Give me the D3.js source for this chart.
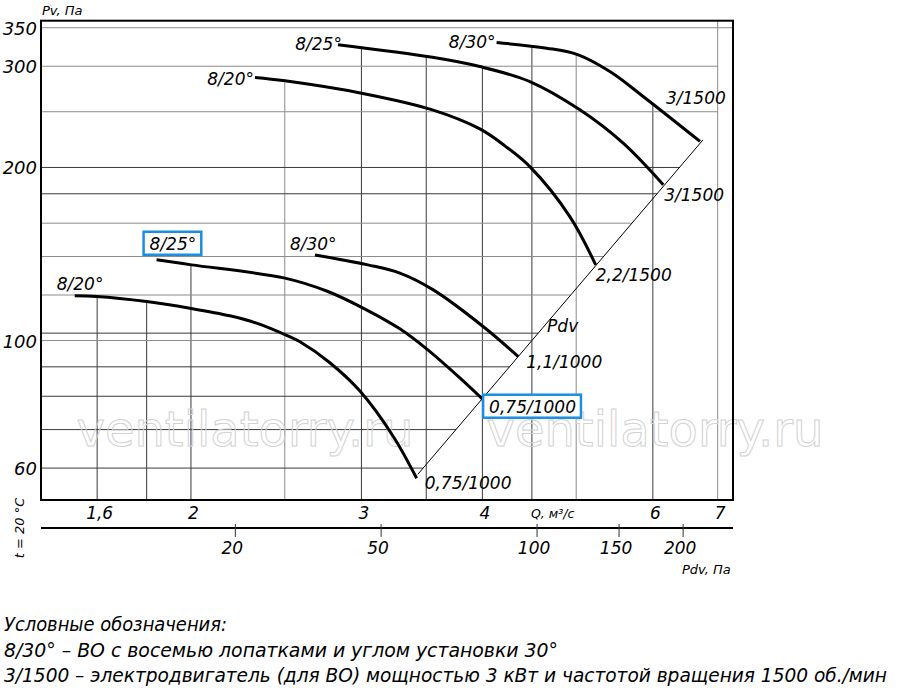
<!DOCTYPE html>
<html>
<head>
<meta charset="utf-8">
<script src="https://cdn.jsdelivr.net/npm/d3@7"></script>
<style>
  body { margin: 0; background: #fff; }
  svg { display: block; }
  text { font-family: "DejaVu Sans", sans-serif; font-style: italic; fill: #000; }
  .legend { font-family: "DejaVu Sans Condensed", "DejaVu Sans", sans-serif; font-size: 20px; }
</style>
</head>
<body>
<svg id="chart" width="900" height="693"></svg>
<script>
// --- Data: Q (m3/s) and Pv (Pa) ---
const qTicks = [1.6, 2, 3, 4, 6, 7];
const qGrid = [1.6, 1.8, 2, 2.5, 3, 3.5, 4, 4.5, 5, 6, 7];
const qGridLight = [2.5, 5, 7];
const pvTicks = [60, 100, 200, 300, 350];
const pvGrid = [60, 70, 80, 90, 100, 103, 120, 140, 160, 180, 200, 250, 300, 350];
const pvGridLight = [100, 120, 140, 160, 250, 300, 350];
const pdvTicks = [20, 50, 100, 150, 200];
const pdvAtQ = [2.22, 3.14, 4.55, 5.53, 6.44];   // Q where each Pdv tick sits

// 1000 rpm group
const lo820 = [[1.517, 119.6], [1.598, 119.3], [1.800, 116.9], [1.995, 113.8], [2.194, 110.4], [2.338, 107.2],
               [2.511, 102.1], [2.592, 99.5], [2.783, 91.5], [2.988, 81.75], [3.236, 68.1], [3.421, 57.6]];
const lo825 = [[1.843, 138.2], [2.003, 135.4], [2.501, 128.4], [2.770, 121.7], [3.036, 113.1], [3.287, 104.8],
               [3.503, 96.7], [3.791, 86.1], [4.007, 78.9]];
const lo830 = [[2.686, 140.9], [3.046, 135.4], [3.287, 131.0], [3.559, 122.5], [4.007, 105.8], [4.356, 93.8]];
// 1500 rpm group
const up820 = [[2.329, 286.8], [2.501, 283.0], [3.001, 269.3], [3.552, 251.9], [3.976, 233.4], [4.220, 218.1],
               [4.478, 200.7], [4.925, 164.3], [5.237, 135.4]];
const up825 = [[2.837, 326.9], [3.552, 310.9], [3.976, 299.6], [4.478, 282.1], [5.044, 251.9], [5.591, 220.4],
               [6.150, 186.6]];
const up830 = [[4.137, 329.8], [4.660, 322.5], [5.008, 314.6], [5.417, 293.7], [5.863, 265.8], [6.712, 222.0]];

const pdvLine = [[3.43, 58.5], [6.76, 223.4]];

const curves = [
  { id: "lo820", blade: "8/20°", motor: "0,75/1000", pts: lo820 },
  { id: "lo825", blade: "8/25°", motor: "0,75/1000", pts: lo825 },
  { id: "lo830", blade: "8/30°", motor: "1,1/1000", pts: lo830 },
  { id: "up820", blade: "8/20°", motor: "2,2/1500", pts: up820 },
  { id: "up825", blade: "8/25°", motor: "3/1500", pts: up825 },
  { id: "up830", blade: "8/30°", motor: "3/1500", pts: up830 }
];

const legendLines = [
  "Условные обозначения:",
  "8/30° – ВО с восемью лопатками и углом установки 30°",
  "3/1500 – электродвигатель (для ВО) мощностью 3 кВт и частотой вращения 1500 об./мин"
];
const legendWidths = [223, 554, 883];

// --- Label placement (pixel offsets from the curve start / end) ---
const bladeLabel = {
  lo820: [-18, -6, "start"], lo825: [-7, -10, "start"], lo830: [-25, -5, "start"],
  up820: [-1, 8, "end"], up825: [4, 5, "end"], up830: [-1, 5, "end"]
};
const motorLabel = {
  lo820: [8, 11], lo825: [6, 13], lo830: [8, 11],
  up820: [0, 16], up825: [1, 16], up830: [-34, -37]
};
const boxed = { blade: ["lo825"], motor: ["lo825"] };

// --- Scales ---
const svg = d3.select("#chart");
const plotLeft = 41, plotRight = 733, plotTop = 20.7, plotBottom = 500;

const x = d3.scaleLog().domain([1.4, 7.26]).range([plotLeft, plotRight]);
const y = d3.scaleLog().domain([52.8, 360]).range([plotBottom, plotTop]);
const pdvScale = d3.scaleLog().domain(pdvTicks).range(pdvAtQ.map(q => x(q)));

// log-log interpolation along a polyline
function pvAt(pts, q) {
  if (q < pts[0][0] || q > pts[pts.length - 1][0]) return null;
  for (let i = 1; i < pts.length; i++) {
    const a = pts[i - 1], b = pts[i];
    if (q <= b[0]) {
      const t = (Math.log(q) - Math.log(a[0])) / (Math.log(b[0]) - Math.log(a[0]));
      return Math.exp(Math.log(a[1]) + t * (Math.log(b[1]) - Math.log(a[1])));
    }
  }
  return null;
}
const maxPv = d3.max(curves, c => d3.max(c.pts, d => d[1]));

function gridTop(q) {
  const vals = curves.map(c => pvAt(c.pts, q)).filter(v => v !== null);
  return vals.length ? y(d3.max(vals)) : plotTop;
}
function gridRight(v) {
  const [a, b] = pdvLine;
  if (v >= a[1] && v <= b[1]) {
    const t = (Math.log(v) - Math.log(a[1])) / (Math.log(b[1]) - Math.log(a[1]));
    return x(Math.exp(Math.log(a[0]) + t * (Math.log(b[0]) - Math.log(a[0]))));
  }
  return v > maxPv ? plotRight : x(7);
}

// --- Grid ---
const grid = svg.append("g").attr("stroke-width", 1);
grid.selectAll("line.v")
  .data(qGrid)
  .join("line")
  .attr("class", "v")
  .attr("x1", d => x(d)).attr("x2", d => x(d))
  .attr("y1", plotBottom).attr("y2", d => gridTop(d))
  .attr("stroke", d => qGridLight.includes(d) ? "#8c8c8c" : "#3a3a3a");

grid.selectAll("line.h")
  .data(pvGrid)
  .join("line")
  .attr("class", "h")
  .attr("x1", plotLeft).attr("x2", d => gridRight(d))
  .attr("y1", d => y(d)).attr("y2", d => y(d))
  .attr("stroke", d => pvGridLight.includes(d) ? "#8c8c8c" : "#3a3a3a");

// --- Watermark ---
svg.append("g")
  .selectAll("text")
  .data([245, 655])
  .join("text")
  .attr("x", d => d).attr("y", 446)
  .attr("text-anchor", "middle")
  .style("font-style", "normal")
  .style("font-size", "48px")
  .style("fill", "none")
  .attr("stroke", "#d2d2d2")
  .attr("stroke-width", 1)
  .text("ventilatorry.ru");

// --- Frame ---
svg.append("rect")
  .attr("x", plotLeft).attr("y", plotTop)
  .attr("width", plotRight - plotLeft).attr("height", plotBottom - plotTop)
  .attr("fill", "none").attr("stroke", "#000").attr("stroke-width", 2);

// --- Axes ---
const yAxis = svg.append("g")
  .attr("transform", `translate(${plotLeft},0)`)
  .call(d3.axisLeft(y).tickValues(pvTicks).tickSize(0).tickPadding(4).tickFormat(d3.format("d")));
yAxis.select(".domain").remove();
yAxis.selectAll("text").style("font-size", "18px").attr("dy", "0.36em");

const qAxis = svg.append("g")
  .attr("transform", `translate(0,${plotBottom})`)
  .call(d3.axisBottom(x).tickValues(qTicks).tickSize(0).tickPadding(7)
    .tickFormat(d => String(d).replace(".", ",")));
qAxis.select(".domain").remove();
qAxis.selectAll("text").style("font-size", "17px").attr("dx", 2);

const pdvY = 528;
svg.append("line")
  .attr("x1", plotLeft).attr("x2", plotRight)
  .attr("y1", pdvY).attr("y2", pdvY)
  .attr("stroke", "#000").attr("stroke-width", 2);
const pdvAxis = svg.append("g")
  .attr("transform", `translate(0,${pdvY})`)
  .call(d3.axisBottom(pdvScale).tickValues(pdvTicks).tickSize(9).tickPadding(5).tickFormat(d3.format("d")));
pdvAxis.select(".domain").remove();
pdvAxis.selectAll(".tick line").attr("y1", -4).attr("stroke", "#333");
pdvAxis.selectAll("text").style("font-size", "17px").attr("dx", -3);

// tidy axis fonts (d3 sets a default family on the group)
svg.selectAll("g").attr("font-family", null).attr("font-size", null);

// --- Axis titles ---
svg.append("text").attr("x", 42).attr("y", 15).style("font-size", "13px").text("Pv, Па");
svg.append("text").attr("x", 531).attr("y", 518).style("font-size", "12.5px").text("Q, м³/с");
svg.append("text").attr("x", 682).attr("y", 574).style("font-size", "13px").text("Pdv, Па");
svg.append("text")
  .attr("transform", "translate(24,528) rotate(-90)")
  .attr("text-anchor", "middle")
  .style("font-size", "13px")
  .text("t = 20 °C");

// --- Pdv line ---
svg.append("line")
  .attr("x1", x(pdvLine[0][0])).attr("y1", y(pdvLine[0][1]))
  .attr("x2", x(pdvLine[1][0])).attr("y2", y(pdvLine[1][1]))
  .attr("stroke", "#000").attr("stroke-width", 1);
{
  const px = x(pdvLine[0][0]) + 0.45 * (x(pdvLine[1][0]) - x(pdvLine[0][0]));
  const py = y(pdvLine[0][1]) + 0.45 * (y(pdvLine[1][1]) - y(pdvLine[0][1]));
  svg.append("text").attr("x", px + 1).attr("y", py + 8).style("font-size", "17px").text("Pdv");
}

// --- Curves ---
const line = d3.line()
  .x(d => x(d[0]))
  .y(d => y(d[1]))
  .curve(d3.curveCatmullRom.alpha(0.5));

svg.append("g")
  .selectAll("path")
  .data(curves)
  .join("path")
  .attr("fill", "none")
  .attr("stroke", "#000")
  .attr("stroke-width", 3)
  .attr("d", d => line(d.pts));

// --- Curve labels ---
const labels = svg.append("g").style("font-size", "17px");
function addBox(textSel) {
  const bb = textSel.node().getBBox();
  labels.insert("rect", () => textSel.node())
    .attr("x", bb.x - 6).attr("y", bb.y - 2)
    .attr("width", bb.width + 11).attr("height", bb.height + 3)
    .attr("fill", "#fff")
    .attr("stroke", "#1a8fe0").attr("stroke-width", 2.5);
}
curves.forEach(c => {
  const s = c.pts[0], e = c.pts[c.pts.length - 1];
  const [bdx, bdy, anchor] = bladeLabel[c.id];
  const bt = labels.append("text")
    .attr("x", x(s[0]) + bdx).attr("y", y(s[1]) + bdy)
    .attr("text-anchor", anchor)
    .text(c.blade);
  if (boxed.blade.includes(c.id)) addBox(bt);

  const [mdx, mdy] = motorLabel[c.id];
  const mt = labels.append("text")
    .attr("x", x(e[0]) + mdx).attr("y", y(e[1]) + mdy)
    .text(c.motor);
  if (boxed.motor.includes(c.id)) addBox(mt);
});

// --- Legend ---
svg.append("g")
  .selectAll("text")
  .data(legendLines)
  .join("text")
  .attr("class", "legend")
  .attr("x", 4)
  .attr("y", (d, i) => 631 + i * 25.5)
  .attr("textLength", (d, i) => legendWidths[i])
  .attr("lengthAdjust", "spacingAndGlyphs")
  .text(d => d);
</script>
</body>
</html>
